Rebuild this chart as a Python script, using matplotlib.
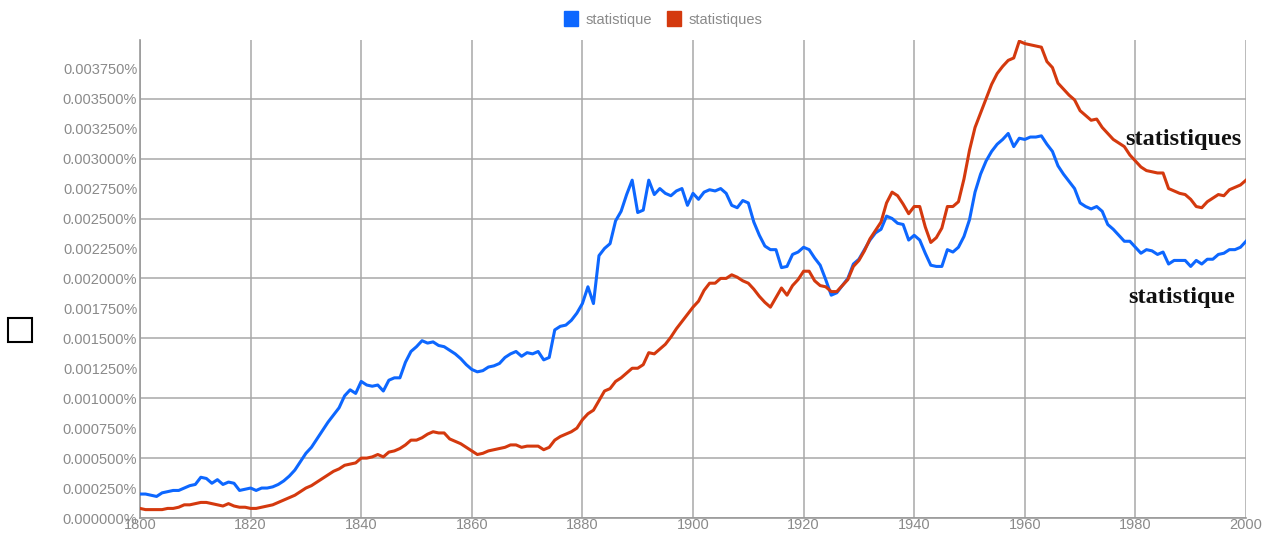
import numpy as np
import matplotlib
matplotlib.use('Agg')
from matplotlib import pyplot as plt
from matplotlib.patches import Patch, Rectangle
from matplotlib.ticker import MultipleLocator, FuncFormatter

# yearly frequencies, in thousandths of a percent
years = np.arange(1800, 2001)

statistique = [
    0.20, 0.20, 0.19, 0.18, 0.21, 0.22, 0.23, 0.23, 0.25, 0.27,  # 1800
    0.28, 0.34, 0.33, 0.29, 0.32, 0.28, 0.30, 0.29, 0.23, 0.24,  # 1810
    0.25, 0.23, 0.25, 0.25, 0.26, 0.28, 0.31, 0.35, 0.40, 0.47,  # 1820
    0.54, 0.59, 0.66, 0.73, 0.80, 0.86, 0.92, 1.02, 1.07, 1.04,  # 1830
    1.14, 1.11, 1.10, 1.11, 1.06, 1.15, 1.17, 1.17, 1.30, 1.39,  # 1840
    1.43, 1.48, 1.46, 1.47, 1.44, 1.43, 1.40, 1.37, 1.33, 1.28,  # 1850
    1.24, 1.22, 1.23, 1.26, 1.27, 1.29, 1.34, 1.37, 1.39, 1.35,  # 1860
    1.38, 1.37, 1.39, 1.32, 1.34, 1.57, 1.60, 1.61, 1.65, 1.71,  # 1870
    1.79, 1.93, 1.79, 2.19, 2.25, 2.29, 2.48, 2.56, 2.70, 2.82,  # 1880
    2.55, 2.57, 2.82, 2.70, 2.75, 2.71, 2.69, 2.73, 2.75, 2.61,  # 1890
    2.71, 2.66, 2.72, 2.74, 2.73, 2.75, 2.71, 2.61, 2.59, 2.65,  # 1900
    2.63, 2.47, 2.36, 2.27, 2.24, 2.24, 2.09, 2.10, 2.20, 2.22,  # 1910
    2.26, 2.24, 2.17, 2.11, 1.99, 1.86, 1.88, 1.94, 2.00, 2.12,  # 1920
    2.16, 2.24, 2.32, 2.38, 2.41, 2.52, 2.50, 2.46, 2.45, 2.32,  # 1930
    2.36, 2.32, 2.21, 2.11, 2.10, 2.10, 2.24, 2.22, 2.26, 2.35,  # 1940
    2.49, 2.72, 2.87, 2.98, 3.06, 3.12, 3.16, 3.21, 3.10, 3.17,  # 1950
    3.16, 3.18, 3.18, 3.19, 3.12, 3.06, 2.94, 2.87, 2.81, 2.75,  # 1960
    2.63, 2.60, 2.58, 2.60, 2.56, 2.45, 2.41, 2.36, 2.31, 2.31,  # 1970
    2.26, 2.21, 2.24, 2.23, 2.20, 2.22, 2.12, 2.15, 2.15, 2.15,  # 1980
    2.10, 2.15, 2.12, 2.16, 2.16, 2.20, 2.21, 2.24, 2.24, 2.26,  # 1990
    2.31,
]

statistiques = [
    0.08, 0.07, 0.07, 0.07, 0.07, 0.08, 0.08, 0.09, 0.11, 0.11,  # 1800
    0.12, 0.13, 0.13, 0.12, 0.11, 0.10, 0.12, 0.10, 0.09, 0.09,  # 1810
    0.08, 0.08, 0.09, 0.10, 0.11, 0.13, 0.15, 0.17, 0.19, 0.22,  # 1820
    0.25, 0.27, 0.30, 0.33, 0.36, 0.39, 0.41, 0.44, 0.45, 0.46,  # 1830
    0.50, 0.50, 0.51, 0.53, 0.51, 0.55, 0.56, 0.58, 0.61, 0.65,  # 1840
    0.65, 0.67, 0.70, 0.72, 0.71, 0.71, 0.66, 0.64, 0.62, 0.59,  # 1850
    0.56, 0.53, 0.54, 0.56, 0.57, 0.58, 0.59, 0.61, 0.61, 0.59,  # 1860
    0.60, 0.60, 0.60, 0.57, 0.59, 0.65, 0.68, 0.70, 0.72, 0.75,  # 1870
    0.82, 0.87, 0.90, 0.98, 1.06, 1.08, 1.14, 1.17, 1.21, 1.25,  # 1880
    1.25, 1.28, 1.38, 1.37, 1.41, 1.45, 1.51, 1.58, 1.64, 1.70,  # 1890
    1.76, 1.81, 1.90, 1.96, 1.96, 2.00, 2.00, 2.03, 2.01, 1.98,  # 1900
    1.96, 1.91, 1.85, 1.80, 1.76, 1.84, 1.92, 1.86, 1.94, 1.99,  # 1910
    2.06, 2.06, 1.98, 1.94, 1.93, 1.89, 1.89, 1.94, 1.99, 2.10,  # 1920
    2.15, 2.23, 2.33, 2.40, 2.47, 2.63, 2.72, 2.69, 2.62, 2.54,  # 1930
    2.60, 2.60, 2.43, 2.30, 2.34, 2.42, 2.60, 2.60, 2.64, 2.83,  # 1940
    3.07, 3.26, 3.38, 3.50, 3.62, 3.71, 3.77, 3.82, 3.84, 3.98,  # 1950
    3.96, 3.95, 3.94, 3.93, 3.81, 3.76, 3.63, 3.58, 3.53, 3.49,  # 1960
    3.40, 3.36, 3.32, 3.33, 3.26, 3.21, 3.16, 3.13, 3.10, 3.03,  # 1970
    2.98, 2.93, 2.90, 2.89, 2.88, 2.88, 2.75, 2.73, 2.71, 2.70,  # 1980
    2.66, 2.60, 2.59, 2.64, 2.67, 2.70, 2.69, 2.74, 2.76, 2.78,  # 1990
    2.82,
]

series_names = ['statistique', 'statistiques']
series_colors = ['#0d67ff', '#d4390e']

fig = plt.figure(figsize=(12.69, 5.35), dpi=100)
ax = fig.add_axes([140 / 1269, 17 / 535, 1106 / 1269, 478 / 535])

for vals, name, col in zip([statistique, statistiques], series_names, series_colors):
    ax.plot(years, np.array(vals) * 1e-3, color=col, lw=2.2, label=name,
            solid_joinstyle='round', zorder=3)

ax.set_xlim(1800, 2000)
ax.set_ylim(0, 0.00399)

grid_col = '#a8a8a8'
ax.xaxis.set_major_locator(MultipleLocator(20))
ax.yaxis.set_major_locator(MultipleLocator(0.0005))
ax.yaxis.set_minor_locator(MultipleLocator(0.00025))
fmt = FuncFormatter(lambda v, p: f'{v:.6f}%')
ax.yaxis.set_major_formatter(fmt)
ax.yaxis.set_minor_formatter(fmt)
ax.grid(True, which='major', color=grid_col, lw=1.1)
ax.tick_params(which='both', length=0, labelsize=10.5, labelcolor='#8a8a8a', pad=2)
ax.tick_params(axis='x', pad=0)
for lab in ax.get_xticklabels() + ax.get_yticklabels(which='both'):
    lab.set_family('Liberation Sans')

for side in ['top', 'right']:
    ax.spines[side].set_visible(False)
for side in ['left', 'bottom']:
    ax.spines[side].set_color('#999999')
    ax.spines[side].set_linewidth(1.2)

# word labels on the right side of the plot
ax.text(1988.6, 0.00316, 'statistiques', family='Liberation Serif', weight='bold',
        fontsize=17.5, ha='center', va='center', color='#111111')
ax.text(1988.4, 0.00184, 'statistique', family='Liberation Serif', weight='bold',
        fontsize=17.5, ha='center', va='center', color='#111111')

handles = [Patch(facecolor=c, edgecolor=c) for c in series_colors]
fig.legend(handles, series_names, loc='center', bbox_to_anchor=(663 / 1269, 1 - 19 / 535),
           ncol=2, frameon=False, handlelength=1.0, handleheight=1.2, handletextpad=0.5,
           columnspacing=1.0, prop={'family': 'Liberation Sans', 'size': 10.5},
           labelcolor='#8a8a8a')

# empty square at the left edge
fig.patches.append(Rectangle((8 / 1269, 1 - 342 / 535), 24 / 1269, 24 / 535,
                             transform=fig.transFigure, fill=False, ec='black', lw=1.5))

fig.savefig('out.png', dpi=100, facecolor='white')
